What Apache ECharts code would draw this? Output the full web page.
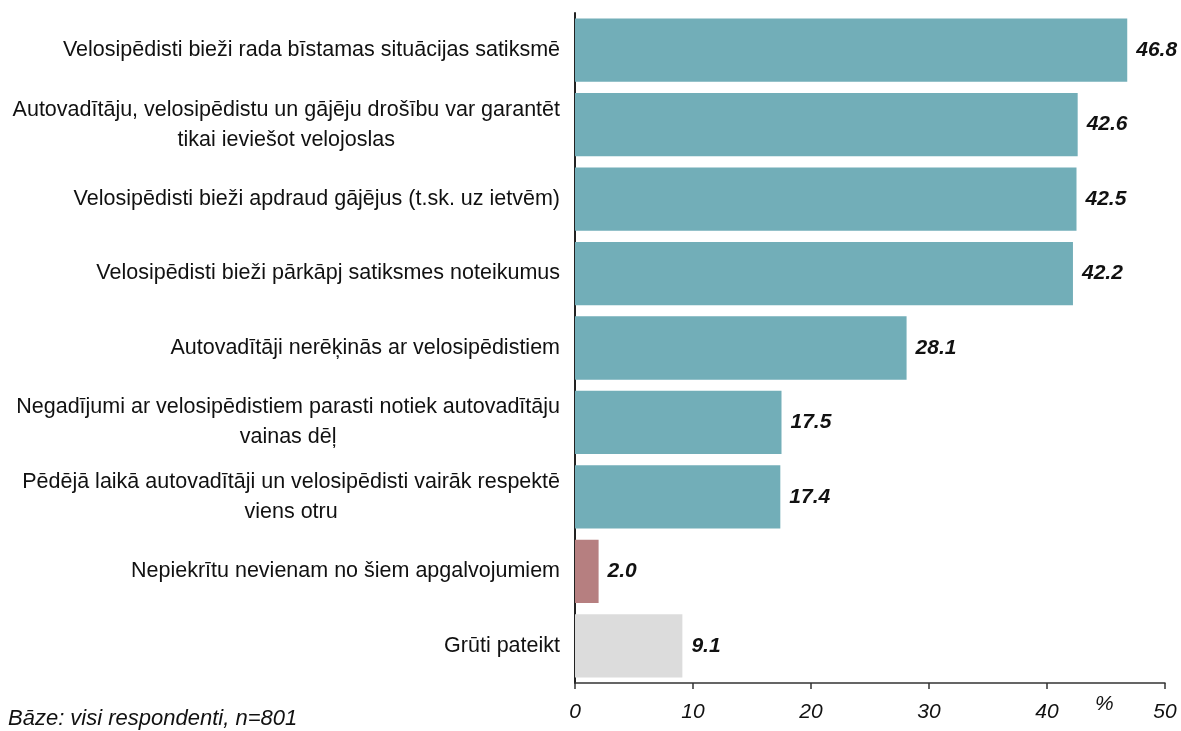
<!DOCTYPE html>
<html>
<head>
<meta charset="utf-8">
<script src="https://cdn.jsdelivr.net/npm/echarts@6/dist/echarts.min.js"></script>
<style>
  html, body { margin: 0; padding: 0; background: #fff; }
  #chart { width: 1181px; height: 731px; }
</style>
</head>
<body>
<div id="chart"></div>
<script>
var categories = [
  "Velosipēdisti bieži rada bīstamas situācijas satiksmē",
  "Autovadītāju, velosipēdistu un gājēju drošību var garantēt\ntikai ieviešot velojoslas",
  "Velosipēdisti bieži apdraud gājējus (t.sk. uz ietvēm)",
  "Velosipēdisti bieži pārkāpj satiksmes noteikumus",
  "Autovadītāji nerēķinās ar velosipēdistiem",
  "Negadījumi ar velosipēdistiem parasti notiek autovadītāju\nvainas dēļ",
  "Pēdējā laikā autovadītāji un velosipēdisti vairāk respektē\nviens otru",
  "Nepiekrītu nevienam no šiem apgalvojumiem",
  "Grūti pateikt"
];
var values = [46.8, 42.6, 42.5, 42.2, 28.1, 17.5, 17.4, 2.0, 9.1];
var xTicks = [0, 10, 20, 30, 40, 50];
var barColors = ["#72aeb8", "#72aeb8", "#72aeb8", "#72aeb8", "#72aeb8", "#72aeb8", "#72aeb8", "#b67f80", "#dcdcdc"];

var font = "'Liberation Sans', Arial, sans-serif";
var myChart = echarts.init(document.getElementById("chart"));

var option = {
  animation: false,
  title: {
    text: "Bāze: visi respondenti, n=801",
    left: 8,
    top: 708,
    padding: 0,
    textStyle: { fontSize: 22, fontStyle: "italic", fontWeight: "normal", color: "#111", fontFamily: font }
  },
  graphic: [
    {
      type: "text",
      left: 1095,
      top: 694,
      style: { text: "%", fontSize: 21, fontStyle: "italic", fill: "#111", fontFamily: font }
    }
  ],
  grid: { left: 575, right: 16, top: 13, bottom: 48, containLabel: false },
  xAxis: {
    type: "value",
    min: xTicks[0],
    max: xTicks[xTicks.length - 1],
    interval: 10,
    splitLine: { show: false },
    axisLine: { show: true, lineStyle: { color: "#333", width: 1.5 } },
    axisTick: { show: true, length: 6, lineStyle: { color: "#333", width: 1.5 } },
    axisLabel: {
      margin: 19,
      fontSize: 21,
      fontStyle: "italic",
      color: "#111",
      fontFamily: font
    }
  },
  yAxis: {
    type: "category",
    inverse: true,
    data: categories,
    axisLine: { show: true, lineStyle: { color: "#222", width: 2 } },
    axisTick: { show: false },
    axisLabel: {
      margin: 15,
      formatter: function (v) {
        return v.split("\n").map(function (s) { return "{c|" + s + "}"; }).join("\n");
      },
      rich: {
        c: { fontSize: 21.5, lineHeight: 30, align: "center", color: "#111", fontFamily: font }
      }
    }
  },
  series: [
    {
      type: "bar",
      barCategoryGap: "15%",
      data: values.map(function (v, i) {
        return { value: v, itemStyle: { color: barColors[i] } };
      }),
      label: {
        show: true,
        position: "right",
        distance: 9,
        fontSize: 21,
        fontWeight: "bold",
        fontStyle: "italic",
        color: "#111",
        fontFamily: font,
        formatter: function (p) { return p.value.toFixed(1); }
      }
    }
  ]
};

myChart.setOption(option);
</script>
</body>
</html>
